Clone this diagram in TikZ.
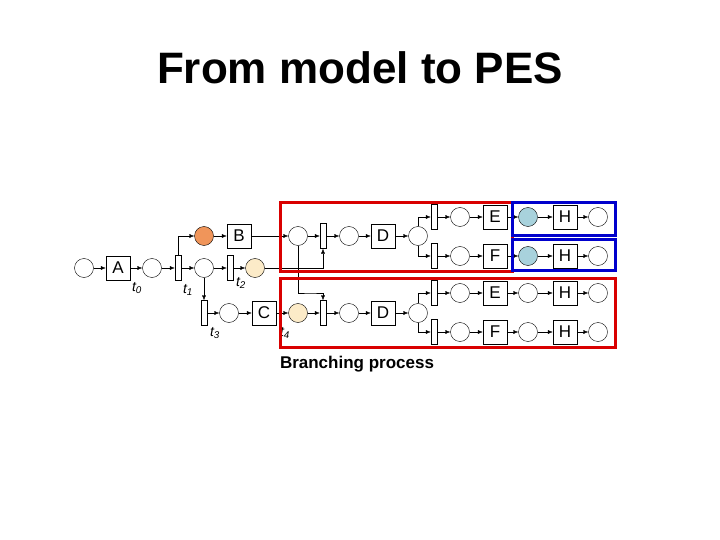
\documentclass[tikz,border=0pt]{standalone}
\usepackage{fontspec}
\setmainfont{Liberation Sans}
\usetikzlibrary{arrows.meta}
\definecolor{lblue}{HTML}{A8D2DC}
\definecolor{org}{HTML}{F0955A}
\definecolor{yel}{HTML}{FCEBC8}
\begin{document}
\begin{tikzpicture}[x=1pt,y=-1pt,
 pl/.style={circle,draw,inner sep=0,minimum size=19pt},
 tr/.style={draw,fill=white,inner sep=0,minimum width=6pt,minimum height=25pt},
 bx/.style={draw,fill=white,inner sep=0,minimum size=24pt,font=\fontsize{17}{17}\selectfont},
 ar/.style={-{Latex[length=5pt,width=4pt]}},
 lb/.style={font=\itshape\fontsize{14}{14}\selectfont}]
\useasboundingbox (0,0) rectangle (720,540);
\node[font=\bfseries\fontsize{44}{44}\selectfont] (title) at (360,68) {From model to PES};
\node[font=\bfseries\fontsize{17}{17}\selectfont] (bp) at (357,364) {Branching process};
% left part
\node[pl] (p0) at (84,268) {};
\node[bx] (A) at (118,268) {A};
\node[pl] (p1) at (152,268) {};
\node[tr] (t1) at (178,268) {};
\node[pl,fill=org] (pb) at (204,236) {};
\node[bx] (B) at (239,236) {B};
\node[pl] (p2) at (204,268) {};
\node[tr] (t2) at (230,268) {};
\node[pl,fill=yel] (py) at (255,268) {};
\node[tr] (t3) at (204,313) {};
\node[pl] (p3) at (229,313) {};
\node[bx] (C) at (264,313) {C};
\node[lb] (l0) at (137,288) {t\textsubscript{0}};
\node[lb] (l1) at (188,290) {t\textsubscript{1}};
\node[lb] (l2) at (241,283) {t\textsubscript{2}};
\node[lb] (l3) at (215,333) {t\textsubscript{3}};
\node[lb] (l4) at (285,333) {t\textsubscript{4}};
\draw[ar] (p0)--(A); \draw[ar] (A)--(p1); \draw[ar] (p1)--(t1);
\draw[ar] (t1)--(p2); \draw[ar] (p2)--(t2); \draw[ar] (t2)--(py);
\draw[ar] (t1.north) |- (pb); \draw[ar] (pb)--(B);
\draw[ar] (p2)--(t3); \draw[ar] (t3)--(p3); \draw[ar] (p3)--(C);
% two copies
\foreach \r/\y/\fc in {u/236/white,l/313/yel}{
 \node[pl,fill=\fc] (q\r) at (298,\y) {};
 \node[tr] (s\r) at (323,\y) {};
 \node[pl] (m\r) at (349,\y) {};
 \node[bx] (D\r) at (383,\y) {D};
 \node[pl] (k\r) at (418,\y) {};
 \draw[ar] (q\r)--(s\r); \draw[ar] (s\r)--(m\r); \draw[ar] (m\r)--(D\r); \draw[ar] (D\r)--(k\r);
}
\draw[ar] (B)--(qu); \draw[ar] (C)--(ql);
\draw[ar] (py) -| (su.south);
\draw[ar] (qu.south) |- (310,293) -| (sl.north);
\foreach \n/\y/\L/\fc in {a/217/E/lblue,b/256/F/lblue,c/293/E/white,d/332/F/white}{
 \node[tr] (v\n) at (434,\y) {};
 \node[pl] (w\n) at (460,\y) {};
 \node[bx] (x\n) at (495,\y) {\L};
 \node[pl,fill=\fc] (y\n) at (528,\y) {};
 \node[bx] (h\n) at (565,\y) {H};
 \node[pl] (z\n) at (598,\y) {};
 \draw[ar] (v\n)--(w\n); \draw[ar] (w\n)--(x\n); \draw[ar] (x\n)--(y\n); \draw[ar] (y\n)--(h\n); \draw[ar] (h\n)--(z\n);
}
\draw[ar] (ku.north) |- (va); \draw[ar] (ku.south) |- (vb);
\draw[ar] (kl.north) |- (vc); \draw[ar] (kl.south) |- (vd);
% boxes
\draw[red!85!black,line width=3pt] (280,203) rectangle (512,271);
\draw[red!85!black,line width=3pt] (280,278) rectangle (615,347);
\draw[blue!80!black,line width=3pt] (512,203) rectangle (615,235);
\draw[blue!80!black,line width=3pt] (512,239) rectangle (615,270);
\end{tikzpicture}
\end{document}
